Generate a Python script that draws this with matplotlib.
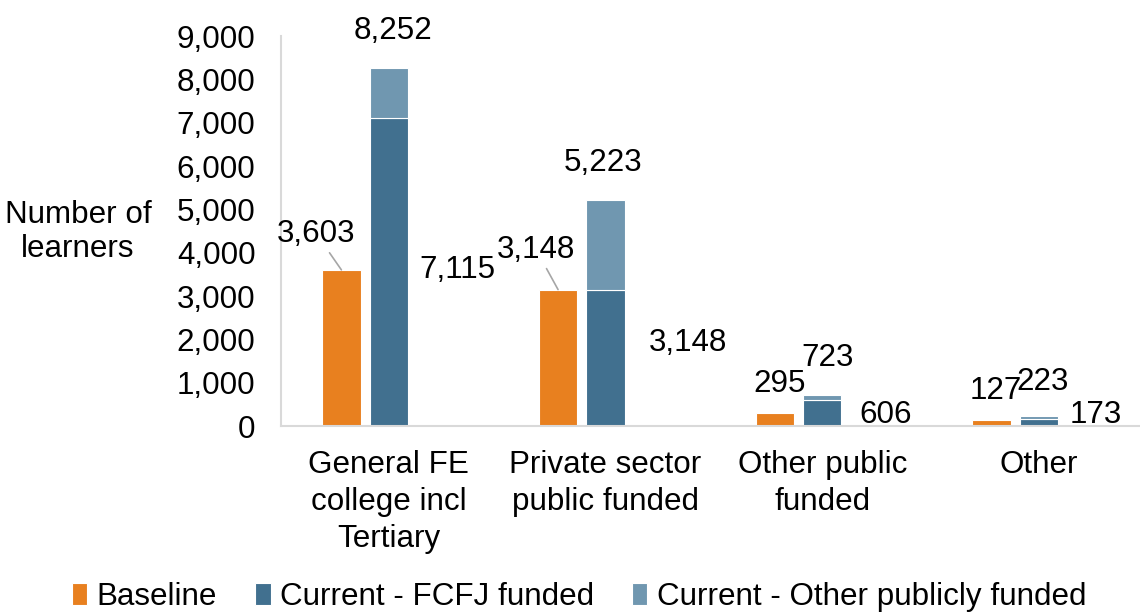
import matplotlib
matplotlib.use('Agg')
import matplotlib.pyplot as plt
import numpy as np

plt.rcParams['font.family'] = ['Liberation Sans', 'DejaVu Sans']

categories = ['General FE\ncollege incl\nTertiary', 'Private sector\npublic funded',
              'Other public\nfunded', 'Other']
baseline = [3603, 3148, 295, 127]
fcfj = [7115, 3148, 606, 173]
other_funded = [1137, 2075, 117, 50]
series_names = ['Baseline', 'Current - FCFJ funded', 'Current - Other publicly funded']
yticks = [0, 1000, 2000, 3000, 4000, 5000, 6000, 7000, 8000, 9000]

ORANGE = '#E8801F'
DARK = '#41708F'
LIGHT = '#7097B0'
FS = 22.6

fig = plt.figure(figsize=(11.4, 6.12), dpi=100)
ax = fig.add_axes([280.5 / 1140, 1 - 426 / 612, 866.7 / 1140, 390 / 612])

x = np.arange(len(categories))
w = 0.177
off = 0.219
totals = [a + b for a, b in zip(fcfj, other_funded)]

ax.bar(x - off, baseline, w, color=ORANGE, edgecolor='white', linewidth=0.8, label=series_names[0])
ax.bar(x, fcfj, w, color=DARK, edgecolor='white', linewidth=0.8, label=series_names[1])
ax.bar(x, other_funded, w, bottom=fcfj, color=LIGHT, edgecolor='white', linewidth=0.8,
       label=series_names[2])

# baseline labels (first two pulled up-left with leader lines)
base_off = [(-25, 36), (-22, 40), (5, 29), (4, 29)]
for i, v in enumerate(baseline):
    dx, dy = base_off[i]
    lead = i < 2
    ax.annotate(f'{v:,}', (x[i] - off, v), xytext=(dx, dy), textcoords='offset pixels',
                ha='center', va='center', fontsize=FS,
                arrowprops=dict(arrowstyle='-', color='#A6A6A6', lw=1.2, shrinkA=1, shrinkB=0)
                if lead else None)

# totals above stacked bars
tot_off = [(4, 37), (-2, 37), (5, 37), (4, 34)]
for i, v in enumerate(totals):
    ax.annotate(f'{v:,}', (x[i], v), xytext=tot_off[i], textcoords='offset pixels',
                ha='center', va='center', fontsize=FS)

# FCFJ labels sitting to the right of the bars
fc_off = [(69, 2), (82, 15), (63, -2), (57, 7)]
for i, v in enumerate(fcfj):
    ax.annotate(f'{v:,}', (x[i], v / 2), xytext=fc_off[i], textcoords='offset pixels',
                ha='center', va='center', fontsize=FS)

ax.set_xlim(-0.5, 3.5)
ax.set_ylim(0, 9000)
ax.set_yticks(yticks)
ax.set_yticklabels([f'{t:,}' for t in yticks], fontsize=FS)
ax.set_xticks(x)
ax.set_xticklabels(categories, fontsize=FS, linespacing=1.32)
ax.tick_params(axis='y', length=0, pad=18)
ax.tick_params(axis='x', length=0, pad=17)
for s in ['top', 'right']:
    ax.spines[s].set_visible(False)
for s in ['left', 'bottom']:
    ax.spines[s].set_color('#D9D9D9')
    ax.spines[s].set_linewidth(1.5)

fig.text(78 / 1140, 1 - 232 / 612, 'Number of\nlearners', ha='center', va='center',
         fontsize=FS, multialignment='center')

fig.legend(loc='center', bbox_to_anchor=(579 / 1140, 1 - 597 / 612), ncol=3, frameon=False,
           fontsize=FS, handlelength=0.5, handleheight=0.7, handletextpad=0.3,
           columnspacing=1.2)

fig.savefig('out.png', dpi=100)
